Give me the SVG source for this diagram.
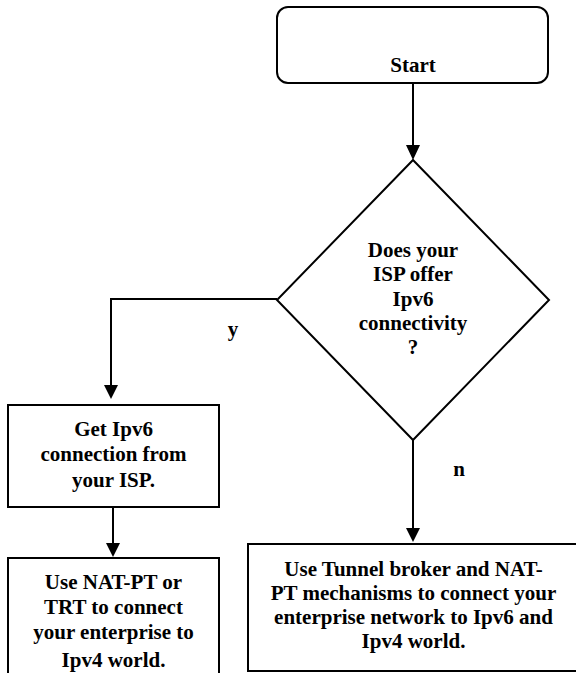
<svg xmlns="http://www.w3.org/2000/svg" width="576" height="673" viewBox="0 0 576 673">
<style>
.shape{fill:#fff;stroke:#000;stroke-width:2}
.line{fill:none;stroke:#000;stroke-width:2}
.head{fill:#000;stroke:none}
text{font-family:"Liberation Serif","Times New Roman",serif;font-weight:bold;font-size:21px;fill:#000;text-anchor:middle}
</style>
<rect width="576" height="673" fill="#fff"/>
<g id="connectors">
<line class="line" x1="413" y1="83" x2="413" y2="146"/>
<polygon class="head" points="406,145 420,145 413,160"/>
<polyline class="line" points="277,299 111,299 111,386"/>
<polygon class="head" points="104,385 118,385 111,399"/>
<line class="line" x1="113" y1="507" x2="113" y2="544"/>
<polygon class="head" points="106,543 120,543 113,557"/>
<line class="line" x1="413" y1="440" x2="413" y2="529"/>
<polygon class="head" points="406,528 420,528 413,542"/>
<text x="233" y="336">y</text>
<text x="459" y="476">n</text>
</g>
<g id="start">
<rect class="shape" x="277" y="7" width="271" height="76" rx="11"/>
<text x="413" y="72">Start</text>
</g>
<g id="decision">
<polygon class="shape" points="413,160 549,300 413,440 277,300"/>
<text x="413" y="257">Does your</text>
<text x="413" y="281">ISP offer</text>
<text x="413" y="306">Ipv6</text>
<text x="413" y="330">connectivity</text>
<text x="413" y="354">?</text>
</g>
<g id="get-ipv6">
<rect class="shape" x="8" y="405" width="211" height="102"/>
<text x="113.5" y="436">Get Ipv6</text>
<text x="113.5" y="461">connection from</text>
<text x="113.5" y="487">your ISP.</text>
</g>
<g id="nat-pt">
<rect class="shape" x="8" y="558" width="211" height="140"/>
<text x="113.5" y="589">Use NAT-PT or</text>
<text x="113.5" y="614">TRT to connect</text>
<text x="113.5" y="639">your enterprise to</text>
<text x="113.5" y="667">Ipv4 world.</text>
</g>
<g id="tunnel">
<rect class="shape" x="248" y="544" width="340" height="127"/>
<text x="413.5" y="576">Use Tunnel broker and NAT-</text>
<text x="413.5" y="600">PT mechanisms to connect your</text>
<text x="413.5" y="624">enterprise network to Ipv6 and</text>
<text x="413.5" y="648">Ipv4 world.</text>
</g>
</svg>
